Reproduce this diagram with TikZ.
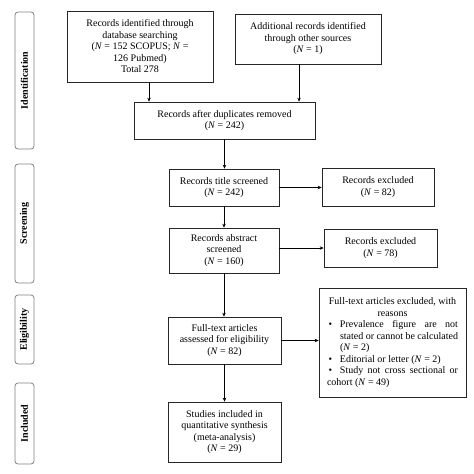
\documentclass[tikz,border=0pt]{standalone}
\usepackage{fontspec}
\setmainfont{Liberation Serif}
\usetikzlibrary{arrows.meta,calc}

\newcommand{\bulletitem}[1]{\par\noindent\hangindent=13pt\hangafter=1\makebox[13pt][l]{\hspace{1.5pt}\textbullet}#1}

\begin{document}
\begin{tikzpicture}[x=1pt,y=-1pt,
  box/.style 2 args={draw=black!85,line width=0.7pt,align=center,inner sep=2pt,
    minimum width=#1,minimum height=#2,font=\fontsize{10}{11.5}\selectfont},
  stage/.style={draw=gray,rounded corners=3pt,line width=0.8pt,rotate=90,
    minimum height=19pt,minimum width=#1,font=\fontsize{10}{11}\selectfont\bfseries},
  arr/.style={-{Stealth[length=4pt,width=3.5pt]},line width=0.6pt}]
  \useasboundingbox (0,0) rectangle (474,474);

  % Stages
  \node[stage=137pt] (ident) at (24.5,80.5) {Identification};
  \node[stage=119pt] (screen) at (24.5,223.5) {Screening};
  \node[stage=69pt] (elig) at (24.5,329.5) {Eligibility};
  \node[stage=81pt] (incl) at (24.5,423.5) {Included};

  % Identification
  \node[box={146pt}{71pt}] (dbsearch) at (140,46.5)
    {Records identified through\\database searching\\(\textit{N} = 152 SCOPUS; \textit{N} =\\126 Pubmed)\\Total 278};
  \node[box={146pt}{50pt}] (other) at (308,39)
    {Additional records identified\\through other sources\\(\textit{N} = 1)};
  \node[box={181pt}{37pt}] (dedup) at (224.5,120.5)
    {Records after duplicates removed\\(\textit{N} = 242)};

  % Screening
  \node[box={110pt}{37pt}] (title) at (224,187.5) {Records title screened\\(\textit{N} = 242)};
  \node[box={112pt}{38pt}] (excltitle) at (378,187) {Records excluded\\(\textit{N} = 82)};
  \node[box={110pt}{45pt}] (abstract) at (224,250.5) {Records abstract\\screened\\(\textit{N} = 160)};
  \node[box={113pt}{38pt}] (exclabs) at (380.5,248) {Records excluded\\(\textit{N} = 78)};

  % Eligibility
  \node[box={113pt}{47pt}] (fulltext) at (224.5,340.5)
    {Full-text articles\\assessed for eligibility\\(\textit{N} = 82)};
  \node[box={147pt}{109pt},text width=131pt,align=justify,inner xsep=8pt] (exclfull) at (392.5,342.5)
    {\hyphenpenalty=10000\tolerance=10000
     {\centering Full-text articles excluded, with reasons\par}
     \bulletitem{Prevalence figure are not\linebreak stated or cannot be calculated\linebreak (\textit{N} = 2)}
     \bulletitem{Editorial or letter (\textit{N} = 2)}
     \bulletitem{Study not cross sectional or\linebreak cohort (\textit{N} = 49)}};

  % Included
  \node[box={113pt}{60pt}] (synth) at (224.5,432)
    {Studies included in\\quantitative synthesis\\(meta-analysis)\\(\textit{N} = 29)};

  % Arrows
  \draw[arr] ([xshift=9pt]dbsearch.south) -- ([xshift=9pt]dbsearch.south |- dedup.north);
  \draw[arr] ([xshift=-9pt]other.south) -- ([xshift=-9pt]other.south |- dedup.north);
  \draw[arr] (dedup.south) -- (dedup.south |- title.north);
  \draw[arr] (title.east) -- (title.east -| excltitle.west);
  \draw[arr] (title.south) -- (title.south |- abstract.north);
  \draw[arr] (exclabs.west -| abstract.east) -- (exclabs.west);
  \draw[arr] (abstract.south) -- (abstract.south |- fulltext.north);
  \draw[arr] (fulltext.east) -- (fulltext.east -| exclfull.west);
  \draw[arr] (fulltext.south) -- (synth.north);
\end{tikzpicture}
\end{document}
